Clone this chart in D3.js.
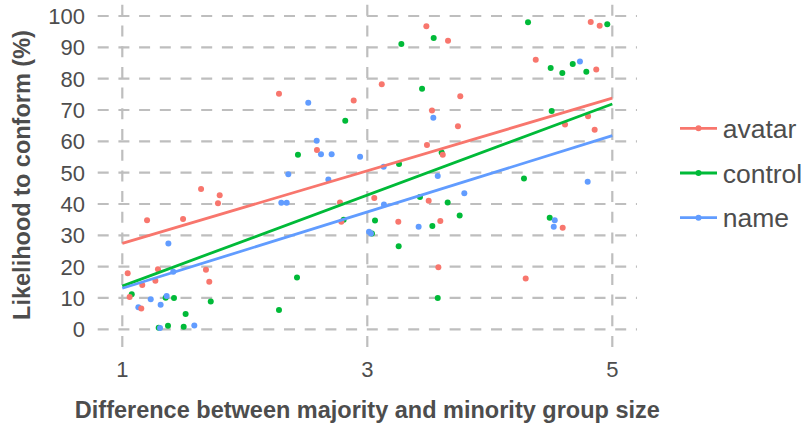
<!DOCTYPE html>
<html>
<head>
<meta charset="utf-8">
<script src="https://cdn.jsdelivr.net/npm/d3@7"></script>
<style>
  body { margin: 0; background: #fff; }
  svg { display: block; font-family: "Liberation Sans", Arial, Helvetica, sans-serif; }
</style>
</head>
<body>
<div id="chart"></div>
<script>
// Groups and colours (ggplot default hues)
const groups = ['avatar', 'control', 'name'];
const groupColors = ['#F8766D', '#00BA38', '#619CFF'];

// [size difference, likelihood %]
const avatarPoints = [
  [1.643, 44.8], [1.795, 42.8], [1.781, 40.2], [1.202, 34.8], [1.496, 35.2], [1.044, 17.9],
  [1.291, 19.2], [1.163, 14.1], [1.27, 15.5], [1.683, 19.0], [1.71, 15.2], [1.06, 10.3],
  [1.155, 6.6], [2.279, 75.2], [3.482, 96.7], [3.659, 92.1], [3.118, 78.2], [2.889, 73.0],
  [3.528, 69.8], [2.589, 57.2], [3.487, 58.8], [3.616, 55.7], [2.777, 40.5], [3.057, 41.9],
  [3.501, 41.0], [2.788, 34.3], [3.253, 34.3], [3.596, 34.6], [3.58, 19.8], [4.824, 98.1],
  [4.897, 96.9], [4.375, 86.0], [4.869, 82.9], [3.759, 74.4], [3.74, 64.8], [4.802, 68.0],
  [4.614, 65.4], [4.856, 63.7], [4.595, 32.4], [4.293, 16.2]
];
const controlPoints = [
  [1.077, 11.2], [1.354, 10.1], [1.422, 10.0], [1.722, 8.9], [1.517, 4.9], [1.297, 0.5],
  [1.373, 1.1], [1.501, 0.8], [2.279, 6.2], [3.278, 91.1], [3.542, 93.0], [3.447, 76.8],
  [2.82, 66.6], [2.434, 55.7], [3.259, 52.8], [3.607, 56.4], [3.43, 42.2], [3.656, 40.5],
  [2.807, 35.0], [3.063, 34.7], [3.531, 33.0], [3.038, 30.6], [3.256, 26.5], [2.426, 16.5],
  [3.575, 10.0], [4.312, 98.0], [4.959, 97.4], [4.497, 83.4], [4.592, 81.8], [4.677, 84.7],
  [4.788, 82.2], [4.505, 69.7], [4.279, 48.1], [3.754, 36.3], [4.489, 35.6]
];
const namePoints = [
  [1.376, 27.4], [1.416, 18.4], [1.362, 10.6], [1.232, 9.6], [1.131, 7.0], [1.313, 7.8],
  [1.308, 0.4], [1.588, 1.2], [2.298, 40.4], [2.342, 40.4], [2.518, 72.3], [2.587, 60.2],
  [2.622, 55.9], [2.709, 55.9], [2.941, 55.1], [2.355, 49.5], [3.134, 51.9], [3.575, 48.9],
  [2.682, 47.8], [3.136, 39.8], [3.419, 32.7], [3.014, 31.1], [3.03, 30.6], [3.539, 67.5],
  [4.736, 85.5], [4.799, 47.1], [3.792, 43.4], [4.53, 34.8], [4.522, 32.7]
];

// fitted trend lines as drawn in the picture: value at x = 1 and at x = 5
const fitX = [1, 5];
const avatarFit = [27.4, 73.8];
const controlFit = [13.8, 71.9];
const nameFit = [13.1, 61.8];

const xTicks = [1, 3, 5];
const yTicks = [0, 10, 20, 30, 40, 50, 60, 70, 80, 90, 100];
const xTitle = 'Difference between majority and minority group size';
const yTitle = 'Likelihood to conform (%)';

const width = 806;
const height = 425;
const panel = { left: 97.7, right: 637, top: 3, bottom: 347 };

const series = [avatarPoints, controlPoints, namePoints].map((pts, i) => ({
  key: groups[i],
  color: groupColors[i],
  points: pts,
  fit: [avatarFit, controlFit, nameFit][i],
}));

// x: 1 -> 122.3, 5 -> 612.3 ; y: 0 -> 329.3, 100 -> 16
const x = d3.scaleLinear().domain([1, 5]).range([122.3, 612.3]);
const y = d3.scaleLinear().domain([0, 100]).range([329.3, 16]);

const svg = d3.select('#chart').append('svg').attr('width', width).attr('height', height);

const gridColor = '#bebebe';
const grid = svg.append('g');
grid
  .selectAll('line.h')
  .data(yTicks)
  .join('line')
  .attr('x1', panel.left)
  .attr('x2', panel.right)
  .attr('y1', (d) => y(d))
  .attr('y2', (d) => y(d))
  .attr('stroke', gridColor)
  .attr('stroke-width', 2.2)
  .attr('stroke-dasharray', '11,9.7');
grid
  .selectAll('line.v')
  .data(xTicks)
  .join('line')
  .attr('x1', (d) => x(d))
  .attr('x2', (d) => x(d))
  .attr('y1', panel.bottom)
  .attr('y2', panel.top)
  .attr('stroke', gridColor)
  .attr('stroke-width', 2.2)
  .attr('stroke-dasharray', '11,9.7');

// points: control first, then name, then avatar on top
const drawOrder = [1, 2, 0];
drawOrder.forEach((i) => {
  const s = series[i];
  svg
    .append('g')
    .selectAll('circle')
    .data(s.points)
    .join('circle')
    .attr('cx', (d) => x(d[0]))
    .attr('cy', (d) => y(d[1]))
    .attr('r', 3)
    .attr('fill', s.color);
});

// trend lines
const line = d3.line().x((d) => x(d[0])).y((d) => y(d[1]));
series.forEach((s) => {
  svg
    .append('path')
    .attr('d', line(fitX.map((v, j) => [v, s.fit[j]])))
    .attr('stroke', s.color)
    .attr('stroke-width', 2.8)
    .attr('fill', 'none');
});

// tick labels
const textColor = '#4d4d4d';
svg
  .append('g')
  .selectAll('text')
  .data(yTicks)
  .join('text')
  .attr('x', 85)
  .attr('y', (d) => y(d))
  .attr('dy', '0.36em')
  .attr('text-anchor', 'end')
  .attr('font-size', 22)
  .attr('fill', textColor)
  .text((d) => d);
svg
  .append('g')
  .selectAll('text')
  .data(xTicks)
  .join('text')
  .attr('x', (d) => x(d))
  .attr('y', 377)
  .attr('text-anchor', 'middle')
  .attr('font-size', 22)
  .attr('fill', textColor)
  .text((d) => d);

// axis titles
svg
  .append('text')
  .attr('x', (panel.left + panel.right) / 2)
  .attr('y', 418)
  .attr('text-anchor', 'middle')
  .attr('font-size', 23.5)
  .attr('font-weight', 'bold')
  .attr('fill', textColor)
  .text(xTitle);
svg
  .append('text')
  .attr('transform', `translate(30,${(panel.top + panel.bottom) / 2}) rotate(-90)`)
  .attr('text-anchor', 'middle')
  .attr('font-size', 23.5)
  .attr('font-weight', 'bold')
  .attr('fill', textColor)
  .text(yTitle);

// legend
const legend = svg.append('g').attr('transform', 'translate(680,128.3)');
const item = legend
  .selectAll('g')
  .data(series)
  .join('g')
  .attr('transform', (d, i) => `translate(0,${i * 44.7})`);
item
  .append('line')
  .attr('x1', 0)
  .attr('x2', 37)
  .attr('stroke', (d) => d.color)
  .attr('stroke-width', 2.8);
item
  .append('circle')
  .attr('cx', 18.5)
  .attr('r', 3)
  .attr('fill', (d) => d.color);
item
  .append('text')
  .attr('x', 42.7)
  .attr('dy', '0.36em')
  .attr('font-size', 26.5)
  .attr('fill', textColor)
  .text((d) => d.key);
</script>
</body>
</html>
